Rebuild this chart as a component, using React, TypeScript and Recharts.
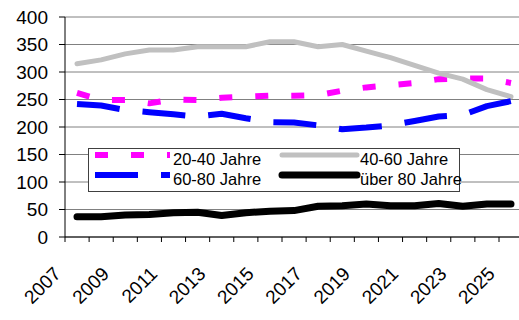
import React from "react";
import { LineChart, Line, XAxis, YAxis, CartesianGrid } from "recharts";

const years = [
  "2007", "2008", "2009", "2010", "2011", "2012", "2013", "2014", "2015", "2016",
  "2017", "2018", "2019", "2020", "2021", "2022", "2023", "2024", "2025",
];
const age20to40 = [262, 249, 249, 243, 250, 249, 253, 255, 257, 257, 258, 266, 272, 276, 280, 287, 288, 288, 280];
const age40to60 = [315, 322, 333, 340, 340, 346, 346, 346, 355, 355, 346, 350, 338, 326, 312, 298, 287, 268, 255];
const age60to80 = [242, 239, 231, 227, 223, 219, 224, 216, 209, 208, 203, 196, 199, 203, 211, 219, 222, 238, 247];
const age80plus = [37, 37, 40, 41, 44, 45, 39, 44, 47, 48, 56, 57, 60, 57, 57, 61, 56, 60, 60];
const yTicks = [0, 50, 100, 150, 200, 250, 300, 350, 400];

const series = [
  { key: "a", name: "20-40 Jahre", color: "#ff00ff", width: 6, dash: "13 23", cap: "butt" },
  { key: "b", name: "40-60 Jahre", color: "#c0c0c0", width: 5, dash: undefined, cap: "round" },
  { key: "c", name: "60-80 Jahre", color: "#0000ff", width: 6, dash: "43 23", cap: "butt" },
  { key: "d", name: "über 80 Jahre", color: "#000000", width: 7, dash: undefined, cap: "round" },
];

const data = years.map((year, i) => ({
  year,
  a: age20to40[i],
  b: age40to60[i],
  c: age60to80[i],
  d: age80plus[i],
}));

const FONT = "'Liberation Sans', Arial, sans-serif";
const HALF_BAND = 12;

// year labels every 2nd category, tick marks on category boundaries
function YearTick(props: any) {
  const { x, y, payload } = props;
  const idx = years.indexOf(payload.value);
  return (
    <g>
      <line x1={x - HALF_BAND} y1={y} x2={x - HALF_BAND} y2={y + 5} stroke="#000" />
      {idx % 2 === 0 && (
        <text
          transform={`translate(${x - 15},${y + 38}) rotate(-45)`}
          textAnchor="end"
          fontSize={19}
          fontFamily={FONT}
          fill="#000"
        >
          {payload.value}
        </text>
      )}
    </g>
  );
}

function LegendBox() {
  const cols = [7, 194];
  const rows = [7, 27];
  return (
    <svg width={385} height={45} style={{ position: "absolute", left: 88, top: 148, overflow: "visible" }}>
      <rect x={0.5} y={0.5} width={371} height={43} fill="#fff" stroke="#404040" />
      {series.map((s, i) => {
        const cx = cols[i % 2];
        const cy = rows[Math.floor(i / 2)];
        return (
          <g key={s.key}>
            <line
              x1={cx}
              y1={cy}
              x2={cx + 75}
              y2={cy}
              stroke={s.color}
              strokeWidth={s.width}
              strokeDasharray={s.dash}
              strokeLinecap={s.cap as any}
            />
            <text x={cx + 78} y={cy + 10} fontSize={16.5} fontFamily={FONT} fill="#000">
              {s.name}
            </text>
          </g>
        );
      })}
    </svg>
  );
}

export default function App() {
  return (
    <div style={{ position: "absolute", left: 0, top: 0, width: 519, height: 320, overflow: "hidden", background: "#fff" }}>
      <LineChart width={523} height={320} data={data} margin={{ top: 17, right: 0, left: 0, bottom: 0 }}>
        <CartesianGrid vertical={false} stroke="#808080" />
        <XAxis
          dataKey="year"
          height={83}
          interval={0}
          padding={{ left: HALF_BAND, right: HALF_BAND }}
          tickLine={false}
          tickSize={0}
          tickMargin={0}
          axisLine={{ stroke: "#000" }}
          tick={<YearTick />}
        />
        <YAxis
          width={65}
          domain={[0, 400]}
          ticks={yTicks}
          interval={0}
          tickSize={6}
          tickMargin={11}
          axisLine={{ stroke: "#000" }}
          tickLine={{ stroke: "#000" }}
          tick={{ fontSize: 19, fontFamily: FONT, fill: "#000" }}
        />
        {series.map((s) => (
          <Line
            key={s.key}
            dataKey={s.key}
            name={s.name}
            type="linear"
            stroke={s.color}
            strokeWidth={s.width}
            strokeDasharray={s.dash}
            strokeLinecap={s.cap as any}
            strokeLinejoin="round"
            dot={false}
            activeDot={false}
            isAnimationActive={false}
          />
        ))}
      </LineChart>
      <LegendBox />
    </div>
  );
}
